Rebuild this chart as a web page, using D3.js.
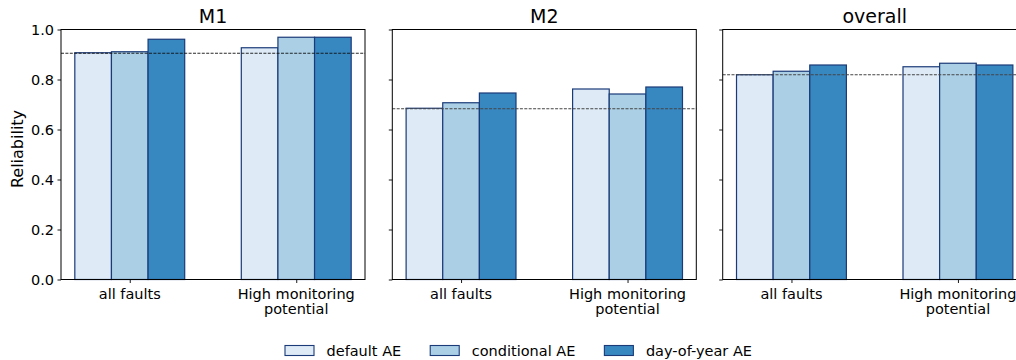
<!DOCTYPE html>
<html>
<head>
<meta charset="utf-8">
<script src="https://cdn.jsdelivr.net/npm/d3@7"></script>
<style>
  body { margin: 0; background: #fff; }
  svg { display: block; font-family: "DejaVu Sans", sans-serif; }
</style>
</head>
<body>
<svg id="chart" width="1016" height="360"></svg>
<script>
// ---- data ----
const panels = ["M1", "M2", "overall"];
const categories = ["all faults", "High monitoring\npotential"];
const seriesNames = ["default AE", "conditional AE", "day-of-year AE"];
const M1 = [[0.907, 0.911, 0.961], [0.927, 0.969, 0.969]];
const M2 = [[0.685, 0.707, 0.746], [0.762, 0.742, 0.770]];
const overall = [[0.819, 0.833, 0.858], [0.851, 0.865, 0.858]];
const panelValues = [M1, M2, overall];
const refLines = [0.905, 0.683, 0.819];
const yTicks = [0, 0.2, 0.4, 0.6, 0.8, 1.0];
const colors = ["#deebf7", "#abd0e6", "#3787c0"];
const edge = "#1a3a78";

const svg = d3.select("#chart");
const plotTop = 29.5, plotBottom = 279.5, pw = 304;
const lefts = [61, 392.3, 722.7];
const barW = 0.22;
const y = d3.scaleLinear().domain([0, 1]).range([plotBottom, plotTop]);

panels.forEach((name, pi) => {
  const x0 = lefts[pi];
  const x = d3.scaleLinear().domain([-0.413, 1.413]).range([x0, x0 + pw]);
  const g = svg.append("g");
  const data = panelValues[pi];

  // bars
  data.forEach((vals, ci) => {
    vals.forEach((v, si) => {
      const cx = ci + (si - 1) * barW;
      g.append("rect")
        .attr("x", x(cx - barW / 2))
        .attr("y", y(v))
        .attr("width", x(cx + barW / 2) - x(cx - barW / 2))
        .attr("height", y(0) - y(v))
        .attr("fill", colors[si])
        .attr("stroke", edge)
        .attr("stroke-width", 1.2);
    });
  });

  // reference line
  g.append("line")
    .attr("x1", x0).attr("x2", x0 + pw)
    .attr("y1", y(refLines[pi])).attr("y2", y(refLines[pi]))
    .attr("stroke", pi === 0 ? "#111" : "#444").attr("stroke-width", pi === 0 ? 0.9 : 1.2)
    .attr("stroke-dasharray", "3,1.4");

  // y axis
  const ya = d3.axisLeft(y).tickValues(yTicks).tickSize(3.5).tickPadding(3.5)
    .tickFormat(pi === 0 ? d3.format(".1f") : () => "");
  const yg = g.append("g").attr("transform", `translate(${x0},0)`).call(ya);
  yg.select(".domain").remove();
  yg.selectAll("line").attr("stroke", "#000").attr("stroke-width", 0.9);
  yg.selectAll("text").attr("font-size", "14.5px").attr("fill", "#000")
    .attr("font-family", "DejaVu Sans");

  // x axis
  const xa = d3.axisBottom(x).tickValues([0, 1]).tickSize(3.5).tickFormat(() => "");
  const xg = g.append("g").attr("transform", `translate(0,${plotBottom})`).call(xa);
  xg.select(".domain").remove();
  xg.selectAll("line").attr("stroke", "#000").attr("stroke-width", 0.9);
  categories.forEach((c, ci) => {
    const lines = c.split("\n");
    const t = g.append("text").attr("text-anchor", "middle")
      .attr("font-size", "14.5px").attr("fill", "#000");
    lines.forEach((l, li) => {
      t.append("tspan").attr("x", x(ci)).attr("y", 299 + li * 14.5).text(l);
    });
  });

  // frame
  g.append("rect").attr("x", x0).attr("y", plotTop).attr("width", pw)
    .attr("height", plotBottom - plotTop).attr("fill", "none")
    .attr("stroke", "#000").attr("stroke-width", 1);

  // title
  g.append("text").attr("x", x0 + pw / 2).attr("y", 22.5)
    .attr("text-anchor", "middle").attr("font-size", "19px").attr("fill", "#000")
    .text(name);
});

// y label
svg.append("text")
  .attr("transform", `translate(23,149) rotate(-90)`)
  .attr("text-anchor", "middle").attr("font-size", "16px").attr("fill", "#000")
  .text("Reliability");

// legend
const lg = svg.append("g");
let lx = 285;
seriesNames.forEach((s, i) => {
  lg.append("rect").attr("x", lx).attr("y", 345.5).attr("width", 29).attr("height", 10)
    .attr("fill", colors[i]).attr("stroke", edge).attr("stroke-width", 1.1);
  const t = lg.append("text").attr("x", lx + 29 + 12.5).attr("y", 356)
    .attr("font-size", "14.5px").attr("fill", "#000").text(s);
  lx = lx + 29 + 12.5 + t.node().getComputedTextLength() + 29;
});
</script>
</body>
</html>
